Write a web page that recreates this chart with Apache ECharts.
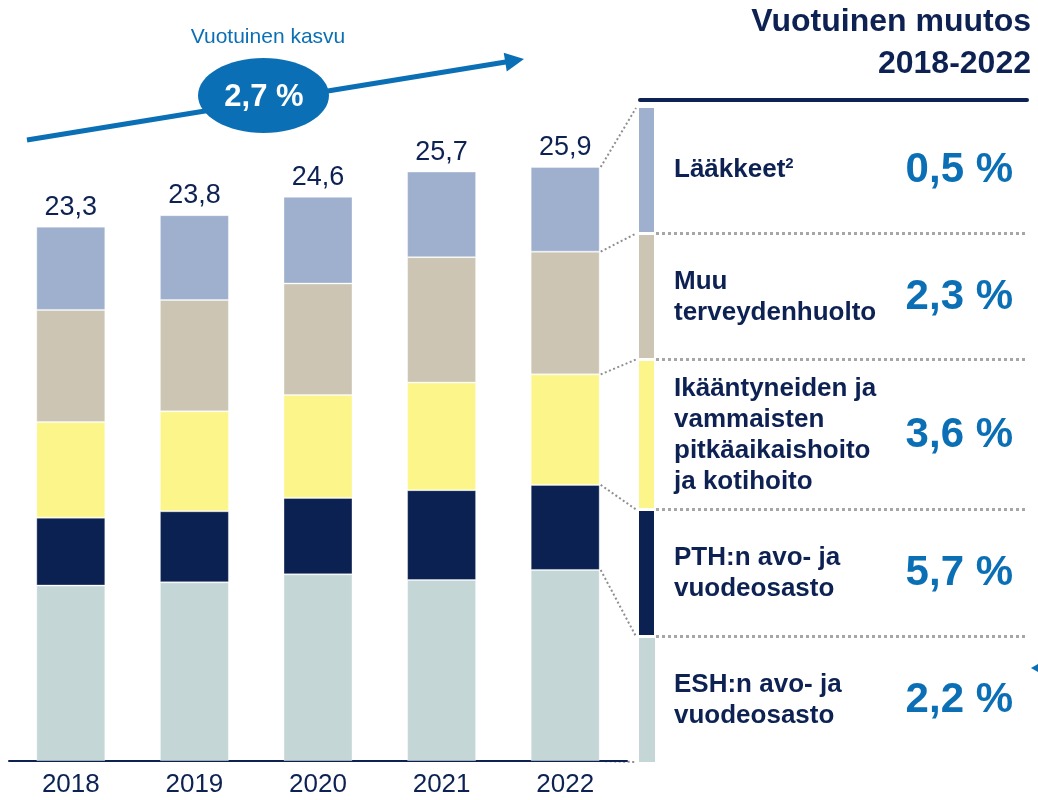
<!DOCTYPE html>
<html><head><meta charset="utf-8">
<script src="https://cdn.jsdelivr.net/npm/echarts@6/dist/echarts.min.js"></script>
<style>html,body{margin:0;padding:0;background:#fff}#c{width:1038px;height:800px}</style>
</head><body><div id="c"></div>
<script>
// ---- data ----
const years = ['2018', '2019', '2020', '2021', '2022'];
const esh = [7.65, 7.79, 8.14, 7.89, 8.33];      // ESH:n avo- ja vuodeosasto
const pth = [2.96, 3.10, 3.33, 3.92, 3.71];      // PTH:n avo- ja vuodeosasto
const ikaant = [4.17, 4.36, 4.49, 4.69, 4.82];   // Ikääntyneiden ja vammaisten ...
const muu = [4.89, 4.85, 4.86, 5.47, 5.35];      // Muu terveydenhuolto
const laak = [3.63, 3.70, 3.78, 3.73, 3.69];     // Lääkkeet
const totals = [23.3, 23.8, 24.6, 25.7, 25.9];
const growthLabels = ['0,5 %', '2,3 %', '3,6 %', '5,7 %', '2,2 %']; // top to bottom
const panelNames = ['Lääkkeet', 'Muu\nterveydenhuolto', 'Ikääntyneiden ja\nvammaisten\npitkäaikaishoito\nja kotihoito', 'PTH:n avo- ja\nvuodeosasto', 'ESH:n avo- ja\nvuodeosasto'];
const avgGrowth = '2,7 %';
const growthTitle = 'Vuotuinen kasvu';
const panelTitle = 'Vuotuinen muutos\n2018-2022';

// ---- style ----
const FONT = '"Liberation Sans", Arial, Helvetica, sans-serif';
const NAVY = '#0D2253';
const BLUE = '#0B6FB5';
const C = { esh: '#C5D6D6', pth: '#0B2152', ika: '#FCF68A', muu: '#CCC5B4', laak: '#9EB0CD' };
const fmt = v => v.toFixed(1).replace('.', ',');

const chart = echarts.init(document.getElementById('c'), null, { renderer: 'canvas' });

function bar(name, data, color, extra) {
  return Object.assign({
    name, type: 'bar', stack: 'total', data, barWidth: 69,
    itemStyle: { color, borderColor: 'rgba(255,255,255,0.35)', borderWidth: 1 }, emphasis: { disabled: true }, animation: false
  }, extra || {});
}

chart.setOption({
  animation: false,
  grid: { left: 9, right: 411, top: 73, bottom: 39 },
  xAxis: {
    type: 'category', data: years,
    axisLine: { show: true, lineStyle: { color: NAVY, width: 2 } },
    axisTick: { show: false },
    axisLabel: { color: NAVY, fontSize: 26, fontFamily: FONT, margin: 11 }
  },
  yAxis: { type: 'value', min: 0, max: 30, show: false, splitLine: { show: false } },
  series: [
    bar('ESH', esh, C.esh),
    bar('PTH', pth, C.pth),
    bar('Ikääntyneiden', ikaant, C.ika),
    bar('Muu', muu, C.muu),
    bar('Lääkkeet', laak, C.laak, {
      label: {
        show: true, position: 'top', distance: 6, color: NAVY, fontSize: 27, fontFamily: FONT,
        formatter: p => fmt(totals[p.dataIndex])
      }
    })
  ]
});

// ---- decorations computed from the chart ----
const last = years.length - 1;
const cum = [0];
[esh, pth, ikaant, muu, laak].forEach(s => cum.push(cum[cum.length - 1] + s[last]));
const barRight = chart.convertToPixel({ gridIndex: 0 }, [last, 0])[0] + 34.5;
const barYs = cum.map(v => chart.convertToPixel({ gridIndex: 0 }, [last, v])[1]).reverse(); // top..bottom

// panel strip layout (top -> bottom)
const stripX = 639, stripW = 15;
const rows = [[108, 232], [235, 358], [361, 508], [511, 635], [638, 762]];
const rowColors = [C.laak, C.muu, C.ika, C.pth, C.esh];
const seps = [233.5, 359.5, 509.5, 636.5];
const stripYs = [108, 233.5, 359.5, 509.5, 636.5, 762];
const rowCenters = [170, 297, 435, 573, 700];

const g = [];
// title
g.push({ type: 'text', silent: true, style: { text: panelTitle, x: 1031, y: 43, align: 'right', verticalAlign: 'middle', fill: NAVY, fontSize: 32, fontWeight: 'bold', fontFamily: FONT, lineHeight: 42 } });
g.push({ type: 'line', silent: true, shape: { x1: 640, y1: 100, x2: 1027, y2: 100 }, style: { stroke: NAVY, lineWidth: 4, lineCap: 'round' } });
// strip
rows.forEach((r, i) => {
  g.push({ type: 'rect', silent: true, shape: { x: stripX, y: r[0], width: stripW + (i === 4 ? 1 : 0), height: r[1] - r[0] }, style: { fill: rowColors[i] } });
});
// separators
seps.forEach(y => g.push({ type: 'line', silent: true, shape: { x1: 656, y1: y, x2: 1026, y2: y }, style: { stroke: '#A6A6A6', lineWidth: 3, lineDash: [3, 3] } }));
// connectors from 2022 bar to strip
barYs.forEach((by, i) => {
  g.push({ type: 'line', silent: true, shape: { x1: barRight + 1, y1: by, x2: stripX - 3, y2: stripYs[i] }, style: { stroke: '#8E8E8E', lineWidth: 2, lineDash: [2, 2.5] } });
});
// labels and growth values
rowCenters.forEach((cy, i) => {
  if (i === 0) {
    g.push({ type: 'text', silent: true, style: {
      text: '{a|' + panelNames[0] + '}{s|2}', x: 674, y: cy, verticalAlign: 'middle', align: 'left',
      rich: { a: { fontSize: 26, fontWeight: 'bold', fill: NAVY, fontFamily: FONT, lineHeight: 28 },
              s: { fontSize: 15, fontWeight: 'bold', fill: NAVY, fontFamily: FONT, verticalAlign: 'top', lineHeight: 28 } }
    } });
  } else {
    g.push({ type: 'text', silent: true, style: { text: panelNames[i], x: 674, y: cy, align: 'left', verticalAlign: 'middle', fill: NAVY, fontSize: 26, fontWeight: 'bold', fontFamily: FONT, lineHeight: 31 } });
  }
  g.push({ type: 'text', silent: true, style: { text: growthLabels[i], x: 1013, y: cy, align: 'right', verticalAlign: 'middle', fill: BLUE, fontSize: 42, fontWeight: 'bold', fontFamily: FONT } });
});
// growth arrow
const a0 = [27, 140], a1 = [524, 59];
const dx = a1[0] - a0[0], dy = a1[1] - a0[1], L = Math.hypot(dx, dy);
const ux = dx / L, uy = dy / L, px = -uy, py = ux;
const hl = 19, hw = 9.5;
const bx = a1[0] - hl * ux, by0 = a1[1] - hl * uy;
g.push({ type: 'line', silent: true, shape: { x1: a0[0], y1: a0[1], x2: bx + 2 * ux, y2: by0 + 2 * uy }, style: { stroke: BLUE, lineWidth: 5 } });
g.push({ type: 'polygon', silent: true, shape: { points: [a1, [bx + hw * px, by0 + hw * py], [bx - hw * px, by0 - hw * py]] }, style: { fill: BLUE } });
g.push({ type: 'ellipse', silent: true, shape: { cx: 263.5, cy: 95.5, rx: 65.5, ry: 37.5 }, style: { fill: BLUE } });
g.push({ type: 'text', silent: true, style: { text: avgGrowth, x: 264, y: 97, align: 'center', verticalAlign: 'middle', fill: '#FFFFFF', fontSize: 31, fontWeight: 'bold', fontFamily: FONT } });
g.push({ type: 'text', silent: true, style: { text: growthTitle, x: 268, y: 37, align: 'center', verticalAlign: 'middle', fill: BLUE, fontSize: 21, fontFamily: FONT } });
// small marker at right edge
g.push({ type: 'polygon', silent: true, shape: { points: [[1031, 668], [1038, 664], [1038, 672]] }, style: { fill: BLUE } });

chart.setOption({ graphic: g });
</script>
</body></html>
